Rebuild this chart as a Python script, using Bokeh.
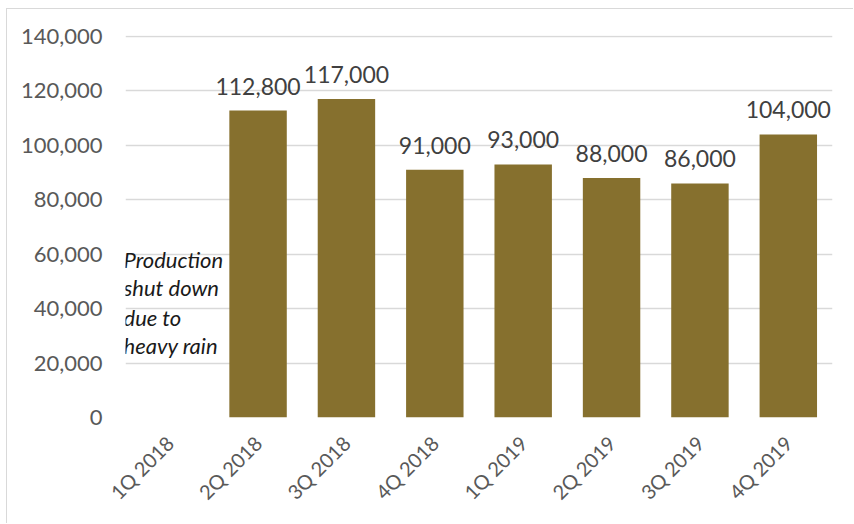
from bokeh.plotting import figure
from bokeh.models import ColumnDataSource, Range1d, SingleIntervalTicker, NumeralTickFormatter, Label, LabelSet
from bokeh.core.properties import value
from bokeh.embed import file_html
from bokeh.resources import INLINE
from math import pi

quarters = ["1Q 2018", "2Q 2018", "3Q 2018", "4Q 2018", "1Q 2019", "2Q 2019", "3Q 2019", "4Q 2019"]
production = [0, 112800, 117000, 91000, 93000, 88000, 86000, 104000]
value_labels = ["", "112,800", "117,000", "91,000", "93,000", "88,000", "86,000", "104,000"]
note_lines = ["Production", "shut down", "due to", "heavy rain"]
note_values = [58200, 47600, 36600, 26300]

FONT = "Lato"
BAR = "#86702E"

src = ColumnDataSource(dict(q=quarters, v=production, lab=value_labels))

p = figure(x_range=quarters, y_range=Range1d(0, 140370), width=847, height=515,
           output_backend="svg", toolbar_location=None,
           min_border_left=118, min_border_right=22, min_border_top=26, min_border_bottom=107)
p.styles = {"margin-left": "6px", "margin-top": "8px",
            "border-left": "1px solid #d9d9d9", "border-top": "1px solid #d9d9d9"}
p.outline_line_color = None
p.background_fill_color = "white"
p.border_fill_color = "white"

p.vbar(x="q", top="v", width=0.65, source=src, fill_color=BAR, line_color=None)

labels = LabelSet(x="q", y="v", text="lab", source=src, text_align="center", text_baseline="bottom",
                  y_offset=16, text_font=value(FONT), text_font_size="23px", text_color="#404040")
p.add_layout(labels)

for line, yv in zip(note_lines, note_values):
    p.add_layout(Label(x=0, y=yv, x_offset=-2, text=line, text_font=FONT, text_font_size="22px",
                       text_font_style="italic", text_color="#1a1a1a", text_baseline="alphabetic"))

p.yaxis.ticker = SingleIntervalTicker(interval=20000)
p.yaxis.formatter = NumeralTickFormatter(format="0,0")
p.yaxis.axis_line_color = None
p.yaxis.major_tick_line_color = None
p.yaxis.minor_tick_line_color = None
p.yaxis.major_label_standoff = 17
p.yaxis.major_label_text_font = FONT
p.yaxis.major_label_text_font_size = "22px"
p.yaxis.major_label_text_color = "#595959"

p.xaxis.axis_line_color = None
p.xaxis.major_tick_line_color = None
p.xaxis.major_label_orientation = pi / 4
p.xaxis.major_label_standoff = 16
p.xaxis.major_label_text_font = FONT
p.xaxis.major_label_text_font_size = "20px"
p.xaxis.major_label_text_color = "#595959"

p.xgrid.grid_line_color = None
p.ygrid.grid_line_color = "#d9d9d9"
p.ygrid.grid_line_width = 1.5

open("out.html", "w").write(file_html(p, INLINE))
